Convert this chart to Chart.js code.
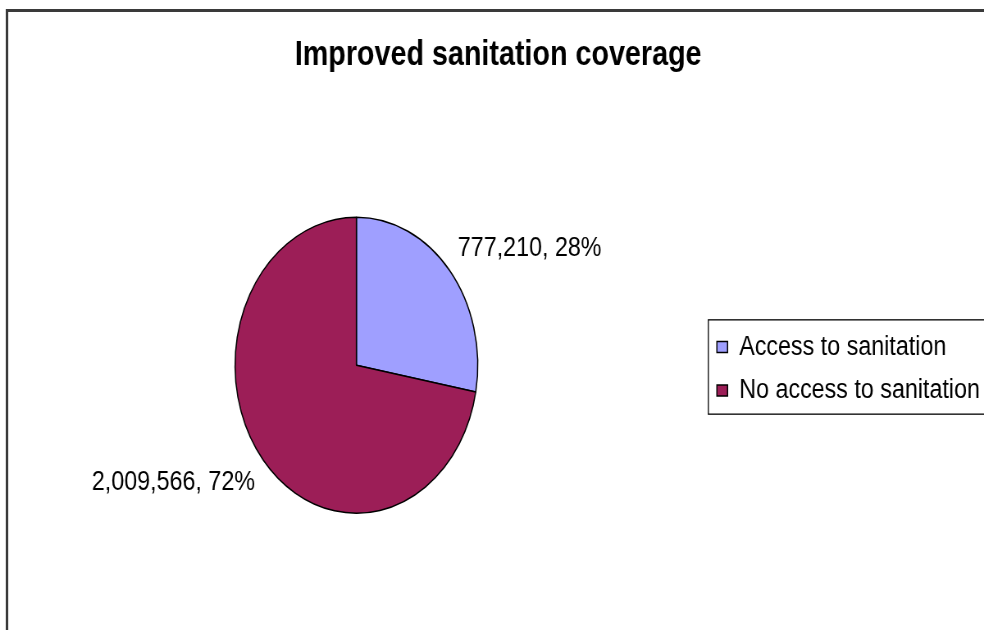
<!DOCTYPE html>
<html>
<head>
<meta charset="utf-8">
<script src="https://cdn.jsdelivr.net/npm/chart.js@4/dist/chart.umd.min.js"></script>
<style>
  html, body { margin: 0; padding: 0; background: #ffffff; overflow: hidden; }
  #c { display: block; }
</style>
</head>
<body>
<canvas id="c" width="1200" height="630" style="width:984px;height:630px"></canvas>
<script>
const chartTitle = 'Improved sanitation coverage';
const categories = ['Access to sanitation', 'No access to sanitation'];
const households = [777210, 2009566];
const sliceColors = ['#9f9fff', '#9c1e57'];

Chart.defaults.font.family = "'Liberation Sans', Arial, sans-serif";
Chart.defaults.color = '#000000';

const total = households.reduce((a, b) => a + b, 0);

const framePlugin = {
  id: 'frame',
  beforeDraw(chart) {
    const ctx = chart.ctx;
    ctx.save();
    ctx.fillStyle = '#ffffff';
    ctx.fillRect(0, 0, chart.width, chart.height);
    ctx.strokeStyle = '#3a3a3a';
    ctx.lineWidth = 3;
    ctx.strokeRect(8.5, 10.5, chart.width + 20, chart.height + 20);
    ctx.restore();
  }
};

const legendBoxPlugin = {
  id: 'legendBox',
  afterDraw(chart) {
    const hb = chart.legend && chart.legend.legendHitBoxes;
    if (!hb || !hb.length) return;
    const first = hb[0], last = hb[hb.length - 1];
    const ctx = chart.ctx;
    ctx.save();
    ctx.strokeStyle = '#000000';
    ctx.lineWidth = 1.3;
    const left = first.left - 10.5;
    const top = first.top - 13;
    const bottom = last.top + last.height + 9.5;
    ctx.strokeRect(left, top, chart.width + 20 - left, bottom - top);
    ctx.restore();
  }
};

const sliceLabelPlugin = {
  id: 'sliceLabels',
  afterDatasetsDraw(chart) {
    const meta = chart.getDatasetMeta(0);
    const ds = chart.data.datasets[0];
    const ctx = chart.ctx;
    ctx.save();
    ctx.font = "28.4px 'Liberation Sans', Arial, sans-serif";
    ctx.fillStyle = '#000000';
    meta.data.forEach((arc, i) => {
      const p = arc.getProps(['x', 'y', 'startAngle', 'endAngle', 'outerRadius'], true);
      const mid = (p.startAngle + p.endAngle) / 2;
      const r = p.outerRadius + 13;
      const ax = p.x + r * Math.cos(mid);
      const ay = p.y + r * Math.sin(mid);
      const v = ds.data[i];
      const pct = Math.round(v / total * 100);
      const txt = v.toLocaleString('en-US') + ', ' + pct + '%';
      ctx.textAlign = Math.cos(mid) >= 0 ? 'left' : 'right';
      ctx.textBaseline = Math.sin(mid) < 0 ? 'bottom' : 'top';
      ctx.fillText(txt, ax, ay);
    });
    ctx.restore();
  }
};

new Chart(document.getElementById('c'), {
  type: 'pie',
  data: {
    labels: categories,
    datasets: [{
      data: households,
      backgroundColor: sliceColors,
      borderColor: '#000000',
      borderWidth: 1.5
    }]
  },
  options: {
    responsive: false,
    devicePixelRatio: 1,
    animation: false,
    events: [],
    radius: 148,
    layout: { padding: { left: 10, right: -5, top: 24.5, bottom: 0 } },
    plugins: {
      title: {
        display: true,
        text: chartTitle,
        color: '#000000',
        font: { size: 35, weight: 'bold' },
        padding: { top: 10, bottom: 24 }
      },
      legend: {
        display: true,
        position: 'right',
        align: 'center',
        fullSize: false,
        title: { display: true, text: '', font: { size: 5 }, padding: { top: 0.5, bottom: 0.5 } },
        labels: {
          color: '#000000',
          font: { size: 28.4 },
          boxWidth: 13,
          boxHeight: 11,
          padding: 15
        }
      },
      tooltip: { enabled: false }
    }
  },
  plugins: [framePlugin, sliceLabelPlugin, legendBoxPlugin]
});
</script>
</body>
</html>
